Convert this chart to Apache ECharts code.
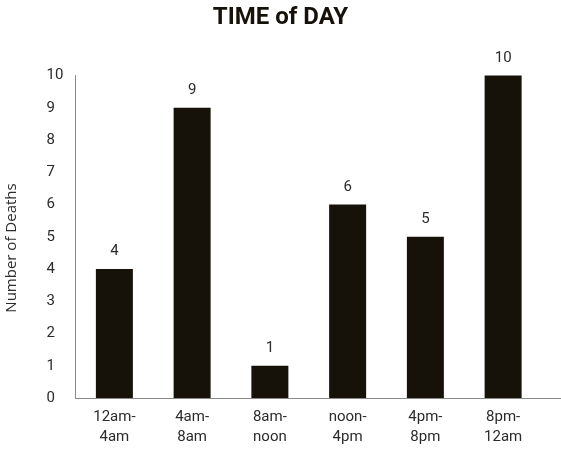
<!DOCTYPE html>
<html>
<head>
<meta charset="utf-8">
<script src="https://cdn.jsdelivr.net/npm/echarts@6/dist/echarts.min.js"></script>
<style>
  html, body { margin: 0; padding: 0; background: #fff; }
  #chart { width: 561px; height: 449px; }
</style>
</head>
<body>
<div id="chart"></div>
<script>
// Deaths by four-hour time block
const timeBlocks = ['12am-\n4am', '4am-\n8am', '8am-\nnoon', 'noon-\n4pm', '4pm-\n8pm', '8pm-\n12am'];
const deaths = [4, 9, 1, 6, 5, 10];
const yTicks = [0, 1, 2, 3, 4, 5, 6, 7, 8, 9, 10];

const FONT = 'Roboto, "DejaVu Sans", sans-serif';
const NAME_FONT = '"Open Sans", "DejaVu Sans", sans-serif';
const INK = '#16120a';
const TEXT = '#2b2b2b';
const AXIS = '#8a8a8a';

const chart = echarts.init(document.getElementById('chart'), null, { renderer: 'canvas' });

chart.setOption({
  backgroundColor: '#ffffff',
  animation: false,
  title: {
    text: 'TIME of DAY',
    left: 'center',
    top: 1,
    textStyle: { fontFamily: FONT, fontWeight: 'bold', fontSize: 24, color: INK }
  },
  grid: { left: 75.5, right: 19, top: 75.5, bottom: 51, containLabel: false },
  xAxis: {
    type: 'category',
    data: timeBlocks,
    axisLine: { lineStyle: { color: AXIS, width: 1 } },
    axisTick: { show: false },
    axisLabel: {
      margin: 9,
      fontFamily: FONT,
      fontSize: 15,
      lineHeight: 20,
      color: TEXT
    }
  },
  yAxis: {
    type: 'value',
    min: yTicks[0],
    max: yTicks[yTicks.length - 1],
    interval: 1,
    splitLine: { show: false },
    axisLine: { show: true, lineStyle: { color: AXIS, width: 1 } },
    axisTick: { show: false },
    axisLabel: {
      align: 'left',
      margin: 29,
      fontFamily: FONT,
      fontSize: 15,
      color: TEXT
    }
  },
  graphic: [
    {
      // the baseline runs on past the last category to the edge
      type: 'line',
      shape: { x1: 540, y1: 398.5, x2: 561, y2: 398.5 },
      style: { stroke: AXIS, lineWidth: 1 }
    },
    {
      type: 'text',
      x: 12,
      y: 248,
      rotation: Math.PI / 2,
      style: {
        text: 'Number of Deaths',
        fontFamily: NAME_FONT,
        fontSize: 15,
        fill: TEXT,
        align: 'center',
        verticalAlign: 'middle'
      }
    }
  ],
  series: [{
    type: 'bar',
    data: deaths,
    barWidth: 37,
    itemStyle: { color: INK },
    label: {
      show: true,
      position: 'top',
      distance: 10,
      fontFamily: FONT,
      fontSize: 15,
      color: TEXT
    }
  }]
});
</script>
</body>
</html>
